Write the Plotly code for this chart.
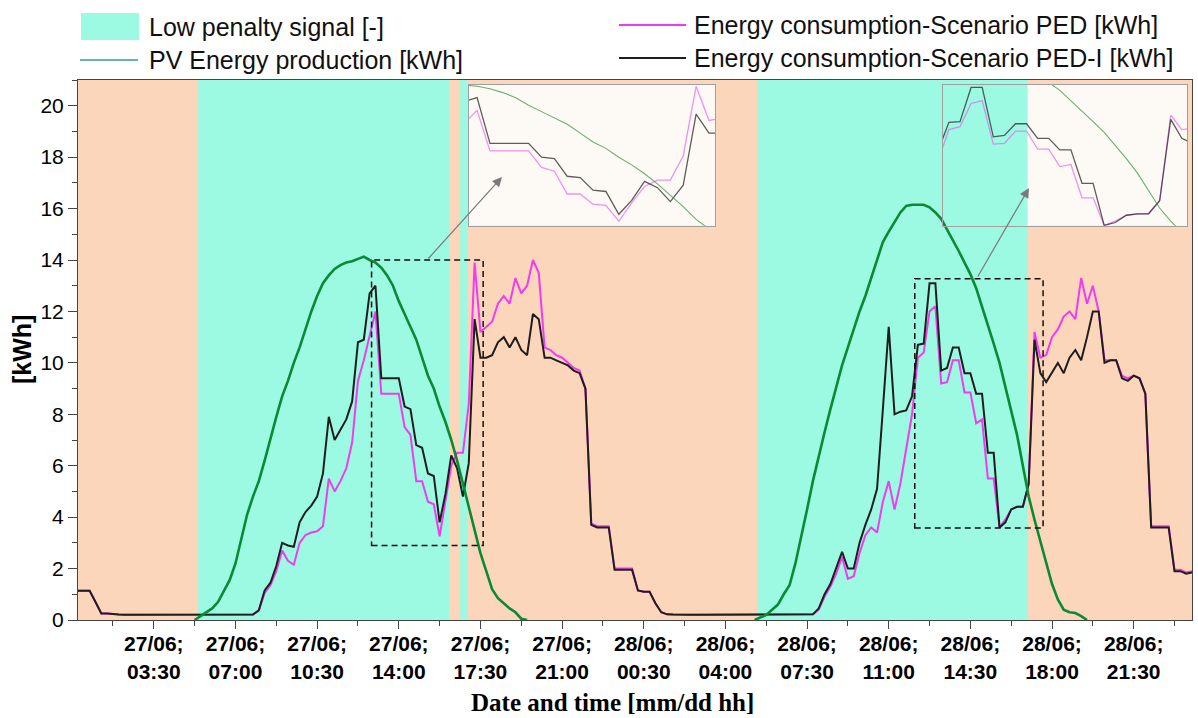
import plotly.graph_objects as go
import pandas as pd

# ---------------- data ----------------
# 15-min time stamps: 27/06 00:15 ... 29/06 00:00
times = pd.date_range("2022-06-27 00:15", "2022-06-29 00:00", freq="15min")

N = None
# Energy consumption - Scenario PED-I [kWh] (each row = hh:15, hh:30, hh:45, hh+1:00)
ped_i_day1 = [
    1.14, 1.14, 1.14, 0.70,
    0.25, 0.25, 0.22, 0.21,
    0.20, 0.20, 0.20, 0.20,
    0.20, 0.20, 0.20, 0.20,
    0.20, 0.20, 0.20, 0.20,
    0.20, 0.20, 0.20, 0.20,
    0.20, 0.20, 0.20, 0.20,
    0.20, 0.20, 0.21, 0.38,
    1.15, 1.45, 2.10, 3.00,
    2.90, 2.85, 3.80, 4.20,
    4.45, 4.80, 5.70, 7.90,
    7.00, 7.40, 7.80, 8.50,
    10.80, 10.90, 12.70, 13.00,
    9.40, 9.40, 9.40, 9.40,
    8.30, 8.20, 6.80, 6.70,
    5.70, 5.60, 3.80, 4.90,
    6.40, 5.90, 4.80, 6.10,
    11.70, 10.20, 10.20, 10.30,
    10.80, 11.00, 10.60, 11.00,
    10.50, 10.30, 11.90, 11.70,
    10.20, 10.20, 10.10, 10.00,
    9.90, 9.70, 9.60, 9.00,
    3.70, 3.60, 3.60, 3.60,
    1.95, 1.95, 1.95, 1.95,
]
ped_i_day2 = [
    1.15, 1.10, 1.10, 0.65,
    0.30, 0.22, 0.21, 0.20,
    0.20, 0.20, 0.20, 0.20,
    0.20, 0.20, 0.20, 0.20,
    0.20, 0.20, 0.20, 0.20,
    0.20, 0.20, 0.20, 0.20,
    0.20, 0.20, 0.20, 0.20,
    0.20, 0.20, 0.22, 0.45,
    1.00, 1.40, 2.00, 2.65,
    2.00, 2.00, 3.00, 3.70,
    4.30, 5.10, 8.20, 11.40,
    8.00, 8.10, 8.15, 8.70,
    10.70, 10.75, 13.10, 13.10,
    9.70, 9.80, 10.60, 10.60,
    9.60, 9.60, 8.80, 8.80,
    6.50, 6.50, 3.60, 3.80,
    4.30, 4.40, 4.40, 5.30,
    10.90, 9.60, 9.25, 9.60,
    10.00, 9.60, 10.20, 10.50,
    10.10, 11.00, 12.00, 12.00,
    10.00, 10.10, 10.10, 9.40,
    9.30, 9.50, 9.40, 8.80,
    3.60, 3.60, 3.60, 3.60,
    1.90, 1.90, 1.80, 1.85,
]
# Energy consumption - Scenario PED [kWh]
ped_day1 = [
    1.14, 1.14, 1.14, 0.70,
    0.25, 0.25, 0.22, 0.21,
    0.20, 0.20, 0.20, 0.20,
    0.20, 0.20, 0.20, 0.20,
    0.20, 0.20, 0.20, 0.20,
    0.20, 0.20, 0.20, 0.20,
    0.20, 0.20, 0.20, 0.20,
    0.20, 0.20, 0.21, 0.36,
    1.05, 1.35, 1.90, 2.70,
    2.30, 2.15, 3.00, 3.30,
    3.40, 3.45, 3.65, 5.50,
    5.00, 5.40, 5.90, 6.90,
    9.30, 10.10, 11.00, 12.00,
    8.80, 8.80, 8.80, 8.80,
    7.50, 7.20, 5.40, 5.40,
    4.60, 4.50, 3.25, 4.70,
    6.00, 6.50, 6.50, 8.40,
    13.90, 11.20, 11.40, 11.60,
    12.30, 12.60, 12.30, 13.30,
    12.70, 13.00, 14.00, 13.50,
    10.60, 10.50, 10.30, 10.20,
    10.00, 9.80, 9.70, 9.00,
    3.75, 3.65, 3.65, 3.65,
    2.00, 2.00, 2.00, 2.00,
]
ped_day2 = [
    1.15, 1.10, 1.10, 0.65,
    0.30, 0.22, 0.21, 0.20,
    0.20, 0.20, 0.20, 0.20,
    0.20, 0.20, 0.20, 0.20,
    0.20, 0.20, 0.20, 0.20,
    0.20, 0.20, 0.20, 0.20,
    0.20, 0.20, 0.20, 0.20,
    0.20, 0.20, 0.22, 0.40,
    0.90, 1.30, 1.80, 2.45,
    1.60, 1.70, 2.60, 3.30,
    3.60, 3.40, 4.60, 5.40,
    4.30, 5.30, 6.60, 8.00,
    10.20, 10.40, 12.00, 12.20,
    9.20, 9.25, 10.10, 10.10,
    8.85, 8.85, 7.65, 7.80,
    5.50, 5.50, 3.60, 3.90,
    4.30, 4.40, 4.40, 5.30,
    11.20, 10.20, 10.30, 11.00,
    11.30, 11.80, 12.00, 11.70,
    13.30, 12.30, 13.00, 12.00,
    10.10, 10.10, 10.10, 9.50,
    9.40, 9.50, 9.40, 8.80,
    3.65, 3.65, 3.65, 3.65,
    1.95, 1.95, 1.85, 1.90,
]
# PV Energy production [kWh]
pv_day1 = [
    N, N, N, N,
    N, N, N, N,
    N, N, N, N,
    N, N, N, N,
    N, N, N, N,
    0.00, 0.15, 0.30, 0.45,
    0.70, 1.10, 1.55, 2.20,
    3.10, 4.10, 4.80, 5.40,
    6.20, 7.10, 7.90, 8.70,
    9.30, 10.00, 10.60, 11.30,
    12.00, 12.60, 13.10, 13.40,
    13.65, 13.80, 13.90, 13.95,
    14.05, 14.13, 14.00, 13.90,
    13.70, 13.40, 13.00, 12.40,
    11.90, 11.40, 10.90, 10.20,
    9.50, 9.00, 8.30, 7.70,
    7.00, 6.20, 5.30, 4.40,
    3.40, 2.60, 1.90, 1.20,
    0.85, 0.65, 0.45, 0.30,
    0.05, 0.00, N, N,
    N, N, N, N,
    N, N, N, N,
    N, N, N, N,
    N, N, N, N,
]
pv_day2 = [
    N, N, N, N,
    N, N, N, N,
    N, N, N, N,
    N, N, N, N,
    N, N, N, N,
    0.00, 0.10, 0.20, 0.40,
    0.60, 1.00, 1.35, 2.20,
    3.20, 4.30, 5.40, 6.40,
    7.30, 8.20, 9.10, 9.90,
    10.60, 11.30, 12.00, 12.60,
    13.30, 14.00, 14.70, 15.10,
    15.50, 15.85, 16.10, 16.15,
    16.15, 16.15, 16.05, 15.85,
    15.60, 15.20, 14.80, 14.35,
    13.90, 13.45, 12.90, 12.20,
    11.50, 10.75, 10.00, 9.10,
    8.20, 7.20, 6.00, 4.80,
    3.90, 3.10, 2.20, 1.40,
    0.80, 0.40, 0.30, 0.27,
    0.15, 0.00, N, N,
    N, N, N, N,
    N, N, N, N,
    N, N, N, N,
    N, N, N, N,
]
ped_i = ped_i_day1 + ped_i_day2
ped = ped_day1 + ped_day2
pv = pv_day1 + pv_day2

# Low penalty signal intervals
signal_start = ["2022-06-27 05:24", "2022-06-27 16:38", "2022-06-28 05:24"]
signal_end = ["2022-06-27 16:10", "2022-06-27 16:57", "2022-06-28 16:57"]

# zoom boxes (time range, kWh range)
box1_x = ["2022-06-27 12:50", "2022-06-27 17:37"]
box1_y = [2.9, 14.0]
box2_x = ["2022-06-28 12:07", "2022-06-28 17:37"]
box2_y = [3.58, 13.27]

# tick labels
tick_times = pd.date_range("2022-06-27 03:30", periods=13, freq="210min")
tick_text = ["<b>%s;</b><br><b>%s</b>" % (t.strftime("%d/%m"), t.strftime("%H:%M")) for t in tick_times]

# ---------------- style ----------------
PEACH = "#fcd6ba"
CYAN = "#9cf9e2"
GREEN = "#0b8a34"
MAGENTA = "#f03cf0"
BLACK = "#1e1e1e"
FONT = "Liberation Sans, Arial, sans-serif"

L, R, T, B = 78, 1192, 80, 620
W, H = 1198, 718


def px_x(p):
    return (p - L) / (R - L)


def px_y(p):
    return (B - p) / (B - T)


fig = go.Figure()

# main traces
fig.add_trace(go.Scatter(x=times, y=ped, mode="lines", line=dict(color=MAGENTA, width=2),
                         name="Energy consumption-Scenario PED [kWh]", showlegend=False))
fig.add_trace(go.Scatter(x=times, y=ped_i, mode="lines", line=dict(color=BLACK, width=2),
                         name="Energy consumption-Scenario PED-I [kWh]", showlegend=False))
fig.add_trace(go.Scatter(x=times, y=pv, mode="lines", line=dict(color=GREEN, width=2.6),
                         name="PV Energy production [kWh]", showlegend=False))

# inset traces
for xa, ya in (("x2", "y2"), ("x3", "y3")):
    fig.add_trace(go.Scatter(x=times, y=ped, mode="lines", xaxis=xa, yaxis=ya,
                             line=dict(color="rgba(232,90,232,0.65)", width=1.3), showlegend=False))
    fig.add_trace(go.Scatter(x=times, y=ped_i, mode="lines", xaxis=xa, yaxis=ya,
                             line=dict(color="rgba(40,40,40,0.75)", width=1.3), showlegend=False))
    fig.add_trace(go.Scatter(x=times, y=pv, mode="lines", xaxis=xa, yaxis=ya,
                             line=dict(color="rgba(60,150,70,0.75)", width=1.1), showlegend=False))

inset1 = dict(x=[px_x(468.5), px_x(715)], y=[px_y(225.7), px_y(85)])
inset2 = dict(x=[px_x(943), px_x(1187)], y=[px_y(225.7), px_y(85)])

shapes = []
shapes.append(dict(type="rect", xref="paper", yref="paper", x0=0, x1=1, y0=0, y1=1,
                   fillcolor=PEACH, line=dict(width=0), layer="below"))
for ins in (inset1, inset2):
    shapes.append(dict(type="rect", xref="paper", yref="paper", x0=ins["x"][0], x1=ins["x"][1],
                       y0=ins["y"][0], y1=ins["y"][1], fillcolor="#fdf9f5", line=dict(width=0), layer="below"))
for s, e in zip(signal_start, signal_end):
    shapes.append(dict(type="rect", xref="x", yref="paper", x0=s, x1=e, y0=0, y1=1,
                       fillcolor=CYAN, line=dict(width=0), layer="below"))
for bx, by in ((box1_x, box1_y), (box2_x, box2_y)):
    shapes.append(dict(type="rect", xref="x", yref="y", x0=bx[0], x1=bx[1], y0=by[0], y1=by[1],
                       line=dict(color="#111111", width=1.5, dash="6px,4px"),
                       fillcolor="rgba(0,0,0,0)", layer="above"))

# manual legend
shapes.append(dict(type="rect", xref="paper", yref="paper", x0=px_x(81), x1=px_x(139),
                   y0=px_y(40), y1=px_y(13), fillcolor=CYAN, line=dict(width=0)))
shapes.append(dict(type="line", xref="paper", yref="paper", x0=px_x(80), x1=px_x(138),
                   y0=px_y(60), y1=px_y(60), line=dict(color="#3a9a94", width=1.5)))
shapes.append(dict(type="line", xref="paper", yref="paper", x0=px_x(619), x1=px_x(686),
                   y0=px_y(25), y1=px_y(25), line=dict(color=MAGENTA, width=2)))
shapes.append(dict(type="line", xref="paper", yref="paper", x0=px_x(619), x1=px_x(686),
                   y0=px_y(58), y1=px_y(58), line=dict(color=BLACK, width=2)))

annotations = []
leg_font = dict(family=FONT, size=25, color="#111111")
for txt, xp, yp in (("Low penalty signal [-]", 147, 27), ("PV Energy production [kWh]", 147, 60),
                    ("Energy consumption-Scenario PED [kWh]", 692, 25),
                    ("Energy consumption-Scenario PED-I [kWh]", 692, 58)):
    annotations.append(dict(text=txt, xref="paper", yref="paper", x=px_x(xp), y=px_y(yp),
                            xanchor="left", yanchor="middle", showarrow=False, font=leg_font))

annotations.append(dict(text="<b>[kWh]</b>", xref="paper", yref="paper", x=px_x(22), y=px_y(350),
                        textangle=-90, showarrow=False, xanchor="center", yanchor="middle",
                        font=dict(family=FONT, size=25, color="black")))
annotations.append(dict(text="<b>Date and time [mm/dd hh]</b>", xref="paper", yref="paper",
                        x=px_x(612), y=px_y(702), showarrow=False, xanchor="center", yanchor="middle",
                        font=dict(family="Liberation Serif, Times New Roman, serif", size=25, color="black")))
# arrows box -> inset
for head, tail in (((502, 177), (427, 260)), ((1029, 188), (977, 278))):
    annotations.append(dict(text="", xref="paper", yref="paper", x=px_x(head[0]), y=px_y(head[1]),
                            axref="pixel", ayref="pixel", ax=tail[0] - head[0], ay=tail[1] - head[1],
                            showarrow=True, arrowhead=2, arrowsize=1.6, arrowwidth=1.2,
                            arrowcolor="#7a7a7a"))

axis_common = dict(showline=True, mirror=True, linecolor="#444444", linewidth=1,
                   showgrid=False, zeroline=False, tickcolor="#444444")
inset_axis = dict(showline=True, mirror=True, linecolor="#a0a0a0", linewidth=1, showgrid=False,
                  zeroline=False, showticklabels=False, ticks="")

fig.update_layout(
    width=W, height=H,
    margin=dict(l=L, r=W - R, t=T, b=H - B),
    paper_bgcolor="white", plot_bgcolor="rgba(0,0,0,0)",
    showlegend=False,
    xaxis=dict(type="date", range=["2022-06-27 00:15", "2022-06-29 00:00"],
               tickmode="array", tickvals=list(tick_times), ticktext=tick_text,
               ticks="outside", ticklen=8, tickwidth=1, ticklabelstandoff=-3,
               tickfont=dict(family=FONT, size=21, color="black"),
               minor=dict(ticks="outside", ticklen=5, tickcolor="#444444",
                          tick0="2022-06-27 01:45", dtick=6300000),
               **axis_common),
    yaxis=dict(range=[0, 21], tickmode="linear", tick0=0, dtick=2, ticks="outside", ticklen=9,
               tickfont=dict(family=FONT, size=21, color="black"),
               minor=dict(ticks="outside", ticklen=5, dtick=1, tickcolor="#444444"),
               **axis_common),
    xaxis2=dict(domain=inset1["x"], anchor="y2", type="date", range=box1_x, **inset_axis),
    yaxis2=dict(domain=inset1["y"], anchor="x2", range=box1_y, **inset_axis),
    xaxis3=dict(domain=inset2["x"], anchor="y3", type="date", range=box2_x, **inset_axis),
    yaxis3=dict(domain=inset2["y"], anchor="x3", range=box2_y, **inset_axis),
    shapes=shapes,
    annotations=annotations,
)

fig.write_html("out.html")
